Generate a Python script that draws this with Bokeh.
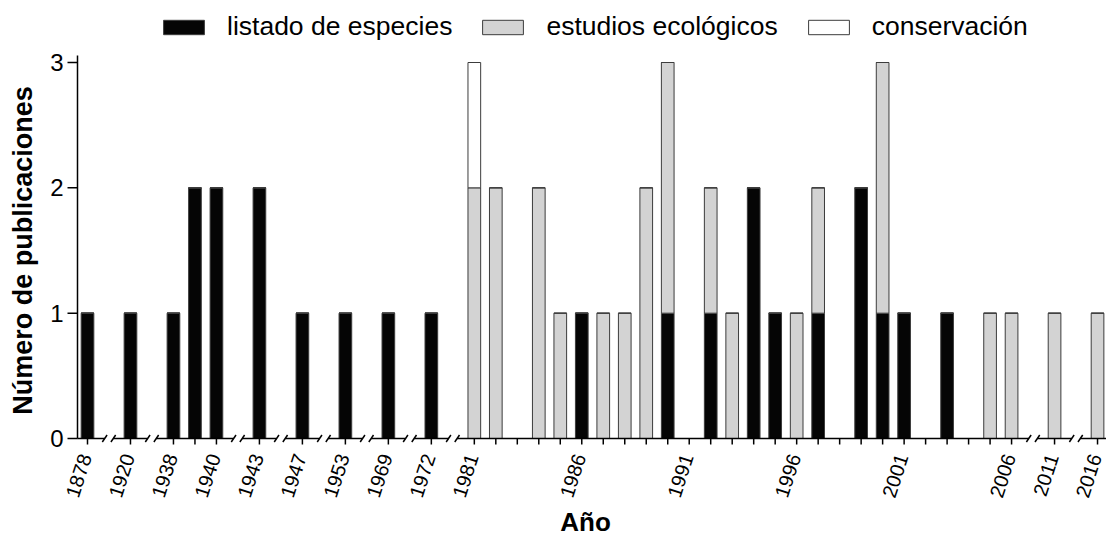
from bokeh.plotting import figure
from bokeh.models import ColumnDataSource, Legend, LegendItem, Range1d
from bokeh.core.properties import value
from bokeh.embed import file_html
from bokeh.resources import INLINE
import math

# ---- data ----
segment_years = [
    [1878], [1920], [1938, 1939, 1940], [1943], [1947], [1953], [1969], [1972],
    [1981, 1982, 1983, 1984, 1985, 1986, 1987, 1988, 1989, 1990, 1991, 1992, 1993,
     1994, 1995, 1996, 1997, 1998, 1999, 2000, 2001, 2002, 2003, 2004, 2005, 2006],
    [2011], [2016],
]
years = [y for seg in segment_years for y in seg]

listado = [1, 1, 1, 2, 2, 2, 1, 1, 1, 1,
           0, 0, 0, 0, 0, 1, 0, 0, 0, 1, 0, 1, 0, 2, 1, 0, 1, 0, 2, 1, 1, 0, 1, 0, 0, 0,
           0, 0]
ecologicos = [0, 0, 0, 0, 0, 0, 0, 0, 0, 0,
              2, 2, 0, 2, 1, 0, 1, 1, 2, 2, 0, 1, 1, 0, 0, 1, 1, 0, 0, 2, 0, 0, 0, 0, 1, 1,
              1, 1]
conservacion = [0, 0, 0, 0, 0, 0, 0, 0, 0, 0,
                1, 0, 0, 0, 0, 0, 0, 0, 0, 0, 0, 0, 0, 0, 0, 0, 0, 0, 0, 0, 0, 0, 0, 0, 0, 0,
                0, 0]
labeled_years = [1878, 1920, 1938, 1940, 1943, 1947, 1953, 1969, 1972,
                 1981, 1986, 1991, 1996, 2001, 2006, 2011, 2016]
series_names = ["listado de especies", "estudios ecológicos", "conservación"]
series_colors = ["#050505", "#d3d3d3", "#ffffff"]
y_ticks = [0, 1, 2, 3]
x_title = "Año"
y_title = "Número de publicaciones"

# ---- positions on a broken axis ----
pos = {}
seg_bounds = []
p0 = 0
for seg in segment_years:
    for i, yr in enumerate(seg):
        pos[yr] = p0 + i
    seg_bounds.append((p0, p0 + len(seg) - 1))
    p0 += len(seg) + 1

# ---- layout (pixels) ----
FONT = "Liberation Sans"
W, H = 1106, 536
OX, OY = 87, 438          # pixel of first year / value 0
U = 21.49                 # pixels per axis slot
PX = (438 - 62) / 3.0     # pixels per publication
x_start, x_end = -OX / U, (W - OX) / U
y_start, y_end = -(H - OY) / PX, OY / PX
y_axis_x = (77 - OX) / U
y_axis_top = 3 + 7 / PX

source = ColumnDataSource(dict(
    x=[pos[y] for y in years],
    listado=listado, ecol=ecologicos, cons=conservacion,
))

p = figure(width=W, height=H, output_backend="svg", toolbar_location=None,
           x_range=Range1d(x_start, x_end), y_range=Range1d(y_start, y_end),
           x_axis_location=None, y_axis_location=None,
           min_border_left=0, min_border_right=0, min_border_top=0, min_border_bottom=0)
p.outline_line_color = None
p.grid.grid_line_color = None
p.background_fill_color = "white"
p.border_fill_color = "white"

rs = p.vbar_stack(["listado", "ecol", "cons"], x="x", width=0.59, source=source,
                  fill_color=series_colors, line_color="#3c3c3c", line_width=1)

# ---- broken x-axis line with break marks ----
xs0, xs1 = [], []
bx0, bx1, by0, by1 = [], [], [], []
n = len(seg_bounds)
for k, (a, b) in enumerate(seg_bounds):
    s = y_axis_x if k == 0 else a - 0.8
    e = x_end if k == n - 1 else b + 0.8
    xs0.append(s); xs1.append(e)
    if k > 0:
        bx0.append(s - 0.11); bx1.append(s + 0.11); by0.append(-3.5 / PX); by1.append(3.5 / PX)
    if k < n - 1:
        bx0.append(e - 0.11); bx1.append(e + 0.11); by0.append(-3.5 / PX); by1.append(3.5 / PX)
p.segment(xs0, [0] * len(xs0), xs1, [0] * len(xs1), line_color="black", line_width=1.5)
p.segment(bx0, by0, bx1, by1, line_color="black", line_width=1.5)

# x ticks at every year
tx = [pos[y] for y in years]
p.segment(tx, [0] * len(tx), tx, [-6 / PX] * len(tx), line_color="black", line_width=1.5)

# x tick labels
p.text(x=[pos[y] - 2 / U for y in labeled_years], y=[-16 / PX] * len(labeled_years),
       text=[str(y) for y in labeled_years], angle=math.radians(72),
       text_align="right", text_baseline="middle", text_color="black",
       text_font=value(FONT), text_font_size="20px")

# x title
p.text(x=[(585 - OX) / U], y=[-(521 - OY) / PX], text=[x_title],
       text_align="center", text_baseline="middle", text_color="black",
       text_font=value(FONT), text_font_size="26px", text_font_style="bold")

# ---- y axis ----
p.segment([y_axis_x], [0], [y_axis_x], [y_axis_top], line_color="black", line_width=1.5)
p.segment([y_axis_x - 10 / U] * len(y_ticks), y_ticks, [y_axis_x] * len(y_ticks), y_ticks,
          line_color="black", line_width=1.5)
p.text(x=[y_axis_x - 14 / U] * len(y_ticks), y=y_ticks, text=[str(v) for v in y_ticks],
       text_align="right", text_baseline="middle", text_color="black",
       text_font=value(FONT), text_font_size="24px")
p.text(x=[(22 - OX) / U], y=[1.5], text=[y_title], angle=math.pi / 2,
       text_align="center", text_baseline="middle", text_color="black",
       text_font=value(FONT), text_font_size="27px", text_font_style="bold")

# ---- legend ----
legend = Legend(items=[LegendItem(label=name, renderers=[r]) for name, r in zip(series_names, rs)],
                orientation="horizontal", location=(158, 494),
                glyph_width=51, glyph_height=18, label_standoff=18, spacing=25,
                label_text_font=FONT, label_text_font_size="26.5px", label_text_color="black",
                border_line_color=None, background_fill_color=None,
                padding=0, margin=0)
p.add_layout(legend, "center")

open("out.html", "w").write(file_html(p, INLINE))
